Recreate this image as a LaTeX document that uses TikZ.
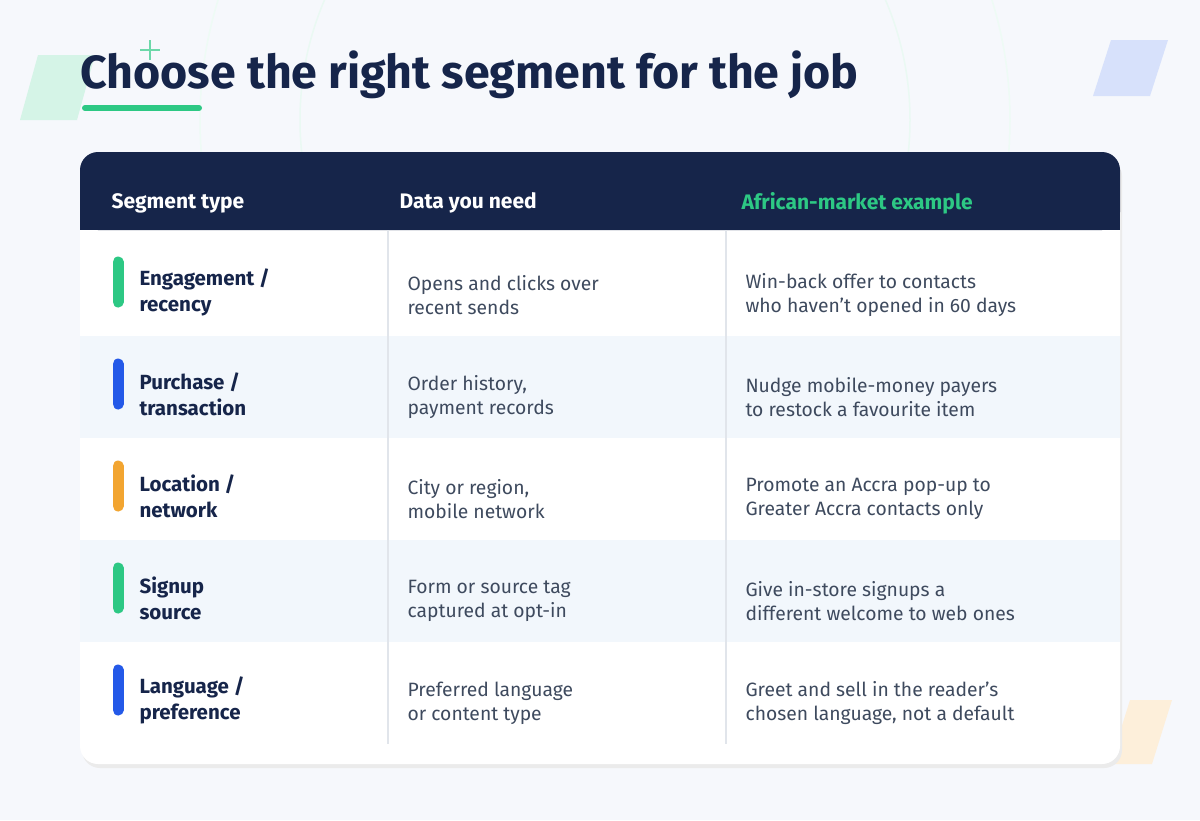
\documentclass[tikz,border=0pt]{standalone}
\usepackage{fontspec}
\setmainfont{Fira Sans}
\usetikzlibrary{positioning}
\definecolor{navy}{HTML}{16254A}
\definecolor{mint}{HTML}{2DC884}
\definecolor{royal}{HTML}{2459E8}
\definecolor{amber}{HTML}{F2A531}
\definecolor{bodytext}{HTML}{3E4A5E}
\definecolor{rowtint}{HTML}{F2F7FC}
\definecolor{rule}{HTML}{E1E5EB}
\definecolor{paper}{HTML}{F6F8FC}
\tikzset{
  head/.style={anchor=west,text=white,font=\fontsize{21}{25}\selectfont\bfseries},
  seg/.style={anchor=west,align=left,text=navy,font=\fontsize{20.5}{26}\selectfont\bfseries},
  cell/.style={anchor=west,align=left,text=bodytext,font=\fontsize{19.3}{24}\selectfont},
  bar/.style={line width=11pt,line cap=round}
}
\begin{document}
\begin{tikzpicture}[x=1pt,y=-1pt]
				\fill[paper] (0,0) rectangle (1200,820);
				\useasboundingbox (0,0) rectangle (1200,820);
				% background decoration
				\draw[mint!10,line width=1.5pt] (605,120) circle (305);
				\draw[mint!8,line width=1.5pt] (605,120) circle (405);
				\fill[mint!20] (38,55) -- (95,55) -- (77,120) -- (20,120) -- cycle;
				\fill[royal!18] (1111,40) -- (1168,40) -- (1150,96) -- (1093,96) -- cycle;
				\fill[amber!18] (1130,700) -- (1172,700) -- (1152,764) -- (1110,764) -- cycle;
				\draw[mint!70,line width=2pt] (150,40) -- (150,60) (140,50) -- (160,50);
				% title
				\node[anchor=west,text=navy,font=\fontsize{46.5}{52}\selectfont\bfseries] (title) at (77,75) {Choose the right segment for the job};
				\draw[mint,line width=6pt,line cap=round] (85,108) -- (199,108);
				% card
				\fill[black!8] (82,158) [rounded corners=18pt] rectangle (1122,768);
				\fill[white,rounded corners=18pt] (80,152) rectangle (1120,764);
				\fill[navy,rounded corners=18pt] (80,152) rectangle (1120,230);
				\fill[navy] (80,205) rectangle (1120,230);
				\node[head] (h1) at (108,203) {Segment type};
				\node[head] (h2) at (396,203) {Data you need};
				\node[head,text=mint] (h3) at (738,203) {African-market example};
				% rows
				\fill[rowtint] (80,336) rectangle (1120,438);
				\fill[rowtint] (80,540) rectangle (1120,642);
				\draw[rule,line width=1.5pt] (388,230) -- (388,744) (726,230) -- (726,744);
				\foreach \n/\y/\c/\a/\b/\d in
				{1/282/mint/{Engagement /\\recency}/{Opens and clicks over\\recent sends}/{Win-back offer to contacts\\who haven't opened in 60 days},
				 2/384/royal/{Purchase /\\transaction}/{Order history,\\payment records}/{Nudge mobile-money payers\\to restock a favourite item},
				 3/486/amber/{Location /\\network}/{City or region,\\mobile network}/{Promote an Accra pop-up to\\Greater Accra contacts only},
				 4/588/mint/{Signup\\source}/{Form or source tag\\captured at opt-in}/{Give in-store signups a\\different welcome to web ones},
				 5/690/royal/{Language /\\preference}/{Preferred language\\or content type}/{Greet and sell in the reader's\\chosen language, not a default}}{
					\draw[bar,\c] (118,\y-20) -- (118,\y+20);
					\node[seg] (seg\n) at (136,\y+10) {\a};
					\node[cell] (data\n) at (404,\y+13) {\b};
					\node[cell] (ex\n) at (742,\y+13) {\d};
				}
			\end{tikzpicture}
\end{document}
